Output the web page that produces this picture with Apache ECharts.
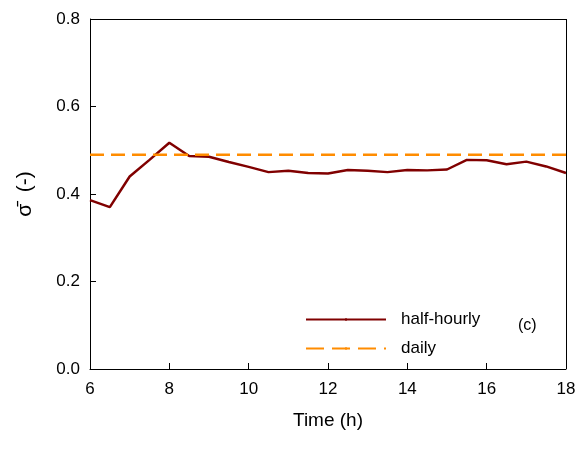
<html>
<head>
<meta charset="UTF-8">
<script src="https://cdn.jsdelivr.net/npm/echarts@6/dist/echarts.min.js"></script>
</head>
<body style="margin:0">
<div id="chart" style="width:579px;height:451px;"></div>
<script>
var hours = [6,6.5,7,7.5,8,8.5,9,9.5,10,10.5,11,11.5,12,12.5,13,13.5,14,14.5,15,15.5,16,16.5,17,17.5,18];
var halfHourly = [0.386,0.37,0.44,0.478,0.517,0.487,0.485,0.473,0.462,0.45,0.453,0.448,0.447,0.455,0.453,0.45,0.455,0.454,0.456,0.478,0.477,0.468,0.474,0.463,0.448];
var dailyValue = 0.49;

var myChart = echarts.init(document.getElementById('chart'));
var font = 'Liberation Sans, Arial, sans-serif';
var option = {
    animation: false,
    grid: {left: 90, right: 13, top: 19, bottom: 82},
    legend: {
        left: 300, top: 306, orient: 'vertical', itemWidth: 80, itemHeight: 3, itemGap: 12,
        textStyle: {fontFamily: font, fontSize: 17, color: '#000', padding: [0, 0, 0, 10]},
        data: [{name: 'half-hourly', itemStyle: {color: '#800000'}, lineStyle: {type: 'solid'}},
               {name: 'daily', lineStyle: {type: [18, 8]}}]
    },
    graphic: [{type: 'text', left: 518, top: 318, style: {text: '(c)', font: '16px ' + font, fill: '#000'}}],
    xAxis: {
        type: 'value', min: 6, max: 18, interval: 2,
        name: 'Time (h)', nameLocation: 'middle', nameGap: 42,
        nameTextStyle: {fontFamily: font, fontSize: 19, color: '#000'},
        axisLine: {lineStyle: {color: '#000'}},
        axisTick: {inside: true, length: 6, lineStyle: {color: '#000'}},
        axisLabel: {fontFamily: font, fontSize: 17, color: '#000', margin: 12},
        splitLine: {show: false}
    },
    yAxis: {
        type: 'value', min: 0, max: 0.8, interval: 0.2,
        name: 'σ̄  (-)', nameLocation: 'middle', nameGap: 54,
        nameTextStyle: {fontFamily: font, fontSize: 21, color: '#000'},
        axisLine: {lineStyle: {color: '#000'}},
        axisTick: {inside: true, length: 6, lineStyle: {color: '#000'}},
        axisLabel: {fontFamily: font, fontSize: 17, color: '#000', margin: 10,
            formatter: function (v) { return v.toFixed(1); }},
        splitLine: {show: false}
    },
    series: [
        {
            name: 'half-hourly', type: 'line', symbol: 'none',
            lineStyle: {color: '#800000', width: 2.5}, itemStyle: {color: '#800000'},
            data: hours.map(function (h, i) { return [h, halfHourly[i]]; })
        },
        {
            name: 'daily', type: 'line', symbol: 'none',
            lineStyle: {color: '#ff8c00', width: 2.5, type: [14, 7]}, itemStyle: {color: '#ff8c00'},
            data: [[6, dailyValue], [18, dailyValue]]
        },
        {
            type: 'line', symbol: 'none', silent: true,
            lineStyle: {opacity: 0}, data: [],
            markLine: {
                symbol: 'none', silent: true, label: {show: false},
                lineStyle: {color: '#000', width: 1, type: 'solid'},
                data: [[{coord: [6, 0.8]}, {coord: [18, 0.8]}], [{coord: [18, 0]}, {coord: [18, 0.8]}]]
            }
        }
    ]
};
myChart.setOption(option);
</script>
</body>
</html>
